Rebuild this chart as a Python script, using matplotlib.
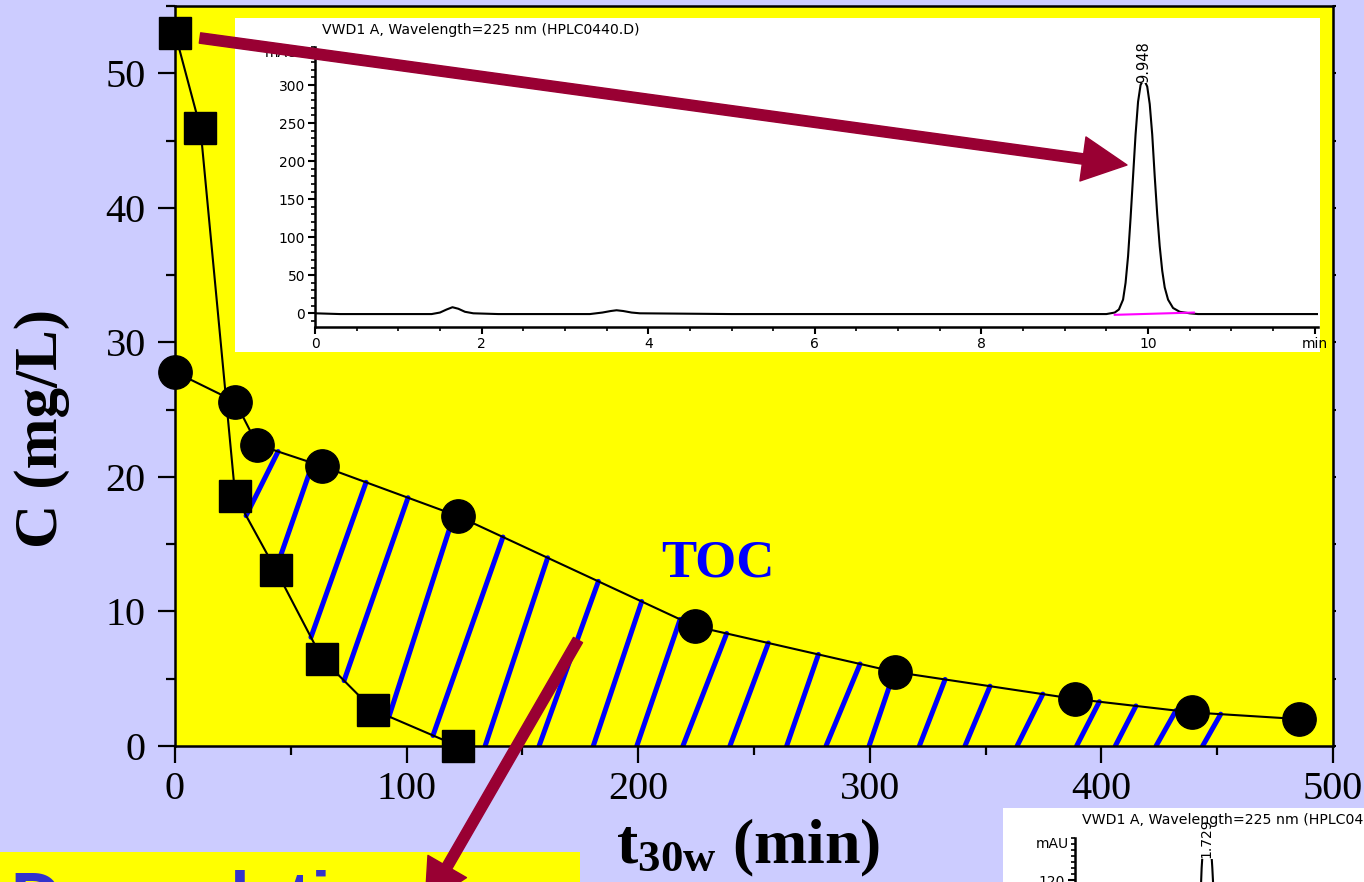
import matplotlib
matplotlib.use('Agg')
import matplotlib.pyplot as plt
import numpy as np
from matplotlib.patches import Rectangle, FancyArrowPatch
from matplotlib.ticker import MultipleLocator, FixedLocator, NullFormatter

plt.rcParams['mathtext.fontset'] = 'custom'
plt.rcParams['mathtext.bf'] = 'Liberation Serif:bold'
plt.rcParams['mathtext.rm'] = 'Liberation Serif'

# degradation of the compound (squares) and TOC (circles)
t_comp = [0, 11, 26, 43.5, 63.5, 85.5, 122]
c_comp = [53.0, 45.9, 18.6, 13.1, 6.5, 2.7, 0.0]
t_toc = [0, 26, 35.5, 63.5, 122, 224.5, 311, 388.5, 439, 485.5]
c_toc = [27.8, 25.6, 22.4, 20.8, 17.1, 8.9, 5.5, 3.5, 2.5, 2.0]

# blue hatch strokes between the curves: start time (lower curve), end time (upper curve)
hatch_t0 = [30.7, 43.5, 58.7, 73.0, 92.4, 111.4, 133.9, 157.2, 180.6, 199.4, 219.3,
            239.6, 264.1, 281.1, 299.7, 321.4, 341.1, 363.6, 389.3, 406.0, 423.6, 443.7]
hatch_t1 = [44.5, 59.5, 82.5, 100.6, 120.5, 141.6, 160.9, 182.8, 201.5, 218.1, 238.2,
            256.2, 277.8, 295.8, 310.6, 332.5, 351.9, 374.7, 399.1, 414.9, 432.2, 451.5]

# chromatogram (inset) at t=0
chrom_t = [0, 0.3, 1.4, 1.5, 1.58, 1.65, 1.72, 1.8, 1.9, 2.2, 3.3, 3.45, 3.55, 3.62, 3.7, 3.8,
           3.9, 5.0, 8.5, 9.5, 9.55, 9.6, 9.65, 9.7, 9.73, 9.76, 9.79, 9.82, 9.85, 9.88, 9.91,
           9.948, 9.99, 10.02, 10.05, 10.08, 10.11, 10.14, 10.17, 10.2, 10.24, 10.3, 10.38,
           10.5, 10.6, 12.05]
chrom_y = [0, -1, -1, 1, 5, 8, 6, 2, 0, -1, -1, 1, 3, 4, 3, 1, 0, -1, -1, -1, 0, 1, 5,
           18, 40, 75, 125, 180, 235, 278, 300, 308, 298, 275, 235, 180, 130, 88, 56, 34,
           18, 7, 2, 0, -1, -1]

# second chromatogram (cut off at bottom right)
chrom2_t = [0, 1.5, 1.58, 1.63, 1.66, 1.69, 1.729, 1.77, 1.80, 1.84, 1.90, 1.98, 3.9]
chrom2_y = [0, 0, 20, 80, 130, 160, 170, 160, 130, 80, 20, 0, 0]

W, H = 1364, 882
fig = plt.figure(figsize=(W / 100, H / 100), dpi=100)
fig.patch.set_facecolor('#ccccff')

def fx(px):
    return px / W

def fy(py):
    return 1 - py / H

ax = fig.add_axes([fx(175), fy(746), fx(1333) - fx(175), fy(6) - fy(746)])
ax.set_facecolor('#ffff00')
ax.set_xlim(0, 500)
ax.set_ylim(0, 55)

lo = np.interp(hatch_t0, t_comp, c_comp)
hi = np.interp(hatch_t1, t_toc, c_toc)
for a, b, ya, yb in zip(hatch_t0, hatch_t1, lo, hi):
    ax.plot([a, b], [ya, yb], color='#0000ff', lw=3.6, solid_capstyle='round', zorder=2)

ax.plot(t_comp, c_comp, color='black', lw=1.5, marker='s', ms=23, zorder=3, clip_on=False)
ax.plot(t_toc, c_toc, color='black', lw=1.5, marker='o', ms=24, zorder=3, clip_on=False)
ax.text(234.5, 13.6, 'TOC', color='#0000ff', fontsize=38, fontweight='bold',
        family='Liberation Serif', ha='center', va='center')

ax.xaxis.set_major_locator(MultipleLocator(100))
ax.xaxis.set_minor_locator(MultipleLocator(50))
ax.yaxis.set_major_locator(MultipleLocator(10))
ax.yaxis.set_minor_locator(MultipleLocator(5))
ax.tick_params(axis='x', which='major', direction='out', length=12, width=1.6, labelsize=29, pad=6)
ax.tick_params(axis='y', which='major', direction='out', length=12, width=1.6, labelsize=29, pad=9)
ax.tick_params(which='minor', direction='out', length=6.5, width=1.6)
for lab in ax.get_xticklabels() + ax.get_yticklabels():
    lab.set_family('Liberation Serif')
for s in ax.spines.values():
    s.set_linewidth(1.8)
sec = ax.secondary_yaxis('right')
sec.yaxis.set_major_locator(MultipleLocator(5))
sec.yaxis.set_major_formatter(NullFormatter())
sec.tick_params(length=2.5, width=1.5)

fig.text(fx(42), fy(428), 'C (mg/L)', rotation=90, fontsize=44, fontweight='bold',
         family='Liberation Serif', ha='center', va='center')
fig.text(fx(748), fy(848), r'$\mathbf{t_{30w}}$ (min)', fontsize=46, fontweight='bold',
         family='Liberation Serif', ha='center', va='center')

# inset chromatogram
fig.add_artist(Rectangle((fx(235), fy(352)), fx(1320) - fx(235), fy(18) - fy(352),
                         transform=fig.transFigure, facecolor='white', edgecolor='none', zorder=1))
axi = fig.add_axes([fx(315), fy(327), fx(1318) - fx(315), fy(47) - fy(327)], zorder=2)
axi.patch.set_alpha(0)
axi.set_xlim(0, 12.04)
axi.set_ylim(-18, 350)
axi.plot(chrom_t, chrom_y, color='black', lw=1.5)
axi.plot([9.6, 10.55], [-2, 1], color='#ff00ff', lw=1.5)
axi.spines['top'].set_visible(False)
axi.spines['right'].set_visible(False)
for s in ['left', 'bottom']:
    axi.spines[s].set_linewidth(1.8)
axi.xaxis.set_major_locator(FixedLocator([0, 2, 4, 6, 8, 10, 12]))
axi.xaxis.set_minor_locator(MultipleLocator(0.5))
axi.set_xticklabels(['0', '2', '4', '6', '8', '10', 'min'])
axi.yaxis.set_major_locator(FixedLocator([0, 50, 100, 150, 200, 250, 300]))
axi.yaxis.set_minor_locator(MultipleLocator(10))
axi.tick_params(which='major', length=5, width=1.5, labelsize=10, pad=2)
axi.tick_params(which='minor', length=3, width=1.2)
axi.text(9.948, 303, '9.948', rotation=90, fontsize=10.5, ha='center', va='bottom',
         bbox=dict(facecolor='white', edgecolor='none', pad=0.5))
axi.text(-0.2, 342, 'mAU', fontsize=10, ha='right', va='center')
fig.text(fx(322), fy(30), 'VWD1 A, Wavelength=225 nm (HPLC0440.D)', fontsize=10.1,
         ha='left', va='center', zorder=3)

# second chromatogram, cut by the figure edge
fig.add_artist(Rectangle((fx(1003), 0), 1 - fx(1003), fy(808),
                         transform=fig.transFigure, facecolor='white', edgecolor='none', zorder=1))
ax2 = fig.add_axes([fx(1075), fy(1048), fx(1400) - fx(1075), fy(838) - fy(1048)], zorder=2)
ax2.patch.set_alpha(0)
ax2.set_xlim(0, 4.26)
ax2.set_ylim(-20, 155)
ax2.plot(chrom2_t, chrom2_y, color='black', lw=1.5)
for s in ['top', 'right', 'bottom']:
    ax2.spines[s].set_visible(False)
ax2.spines['left'].set_linewidth(1.8)
ax2.set_xticks([])
ax2.yaxis.set_major_locator(FixedLocator([0, 20, 40, 60, 80, 100, 120]))
ax2.yaxis.set_minor_locator(MultipleLocator(5))
ax2.tick_params(which='major', length=5, width=1.5, labelsize=10, pad=2)
ax2.tick_params(which='minor', length=3, width=1.2)
ax2.text(1.729, 138, '1.729', rotation=90, fontsize=10, ha='center', va='bottom',
         bbox=dict(facecolor='white', edgecolor='none', pad=0.5))
ax2.text(-0.08, 150, 'mAU', fontsize=10, ha='right', va='center')
fig.text(fx(1082), fy(820), 'VWD1 A, Wavelength=225 nm (HPLC0441.D)', fontsize=10.2,
         ha='left', va='center', zorder=3)

# "Degradation" box at the bottom left
fig.add_artist(Rectangle((0, 0), fx(580), fy(852), transform=fig.transFigure,
                         facecolor='#ffff00', edgecolor='none', zorder=1))
fig.text(fx(10), fy(870), 'Degradation', color='#3333cc', fontsize=50, fontweight='bold',
         family='Liberation Sans', ha='left', va='top', zorder=2)

# arrows
for p0, p1 in [((200, 38), (1127, 165)), ((578, 640), (425, 905))]:
    arr = FancyArrowPatch((fx(p0[0]), fy(p0[1])), (fx(p1[0]), fy(p1[1])),
                          transform=fig.transFigure, arrowstyle='simple,head_width=3.2,head_length=3.2,tail_width=0.75',
                          mutation_scale=10, color='#990033', shrinkA=0, shrinkB=0, zorder=5)
    fig.add_artist(arr)

fig.savefig('out.png', dpi=100, facecolor=fig.get_facecolor())
